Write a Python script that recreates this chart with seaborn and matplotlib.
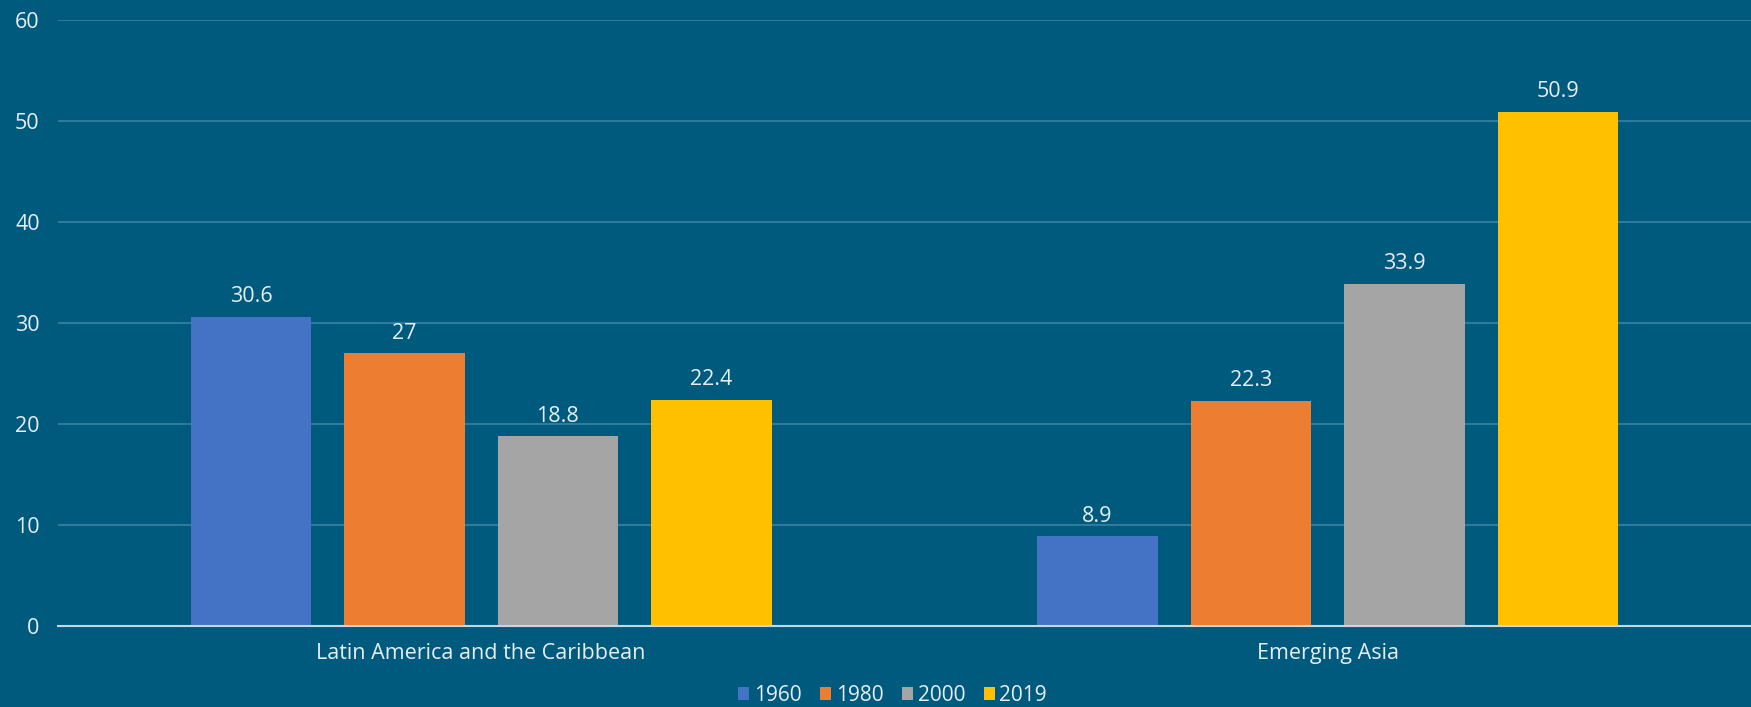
import matplotlib
matplotlib.use("Agg")
import matplotlib.pyplot as plt
import seaborn as sns
import pandas as pd

regions = ["Latin America and the Caribbean", "Emerging Asia"]
years = ["1960", "1980", "2000", "2019"]
values_latam = [30.6, 27, 18.8, 22.4]
values_asia = [8.9, 22.3, 33.9, 50.9]
value_labels_latam = ["30.6", "27", "18.8", "22.4"]
value_labels_asia = ["8.9", "22.3", "33.9", "50.9"]
colors = ["#4472C4", "#ED7D31", "#A5A5A5", "#FFC000"]

bg = "#005A7E"
txt = "#E6EEF3"

df = pd.DataFrame({
    "region": [regions[0]] * 4 + [regions[1]] * 4,
    "year": years + years,
    "value": values_latam + values_asia,
})

sns.set_style("white")
plt.rcParams["font.family"] = ["Open Sans", "DejaVu Sans"]

fig = plt.figure(figsize=(17.51, 7.07), dpi=100, facecolor=bg)
ax = fig.add_axes([0.033, 0.114, 0.967, 0.858])
ax.set_facecolor(bg)

sns.barplot(data=df, x="region", y="value", hue="year", hue_order=years,
            palette=colors, width=0.725, gap=0.214, saturation=1,
            linewidth=0, order=regions, ax=ax, legend=True)

for i, cont in enumerate(ax.containers):
    labs = [value_labels_latam[i], value_labels_asia[i]]
    ax.bar_label(cont, labels=labs, padding=7, color=txt, fontsize=15.5)

ax.set_ylim(0, 60)
ax.set_xlim(-0.5, 1.5)
ax.set_yticks(range(0, 61, 10))
ax.yaxis.grid(True, color="#2E7B9C", linewidth=1.5)
ax.set_axisbelow(True)
for s in ["top", "right", "left"]:
    ax.spines[s].set_visible(False)
ax.spines["bottom"].set_color("#C9D6DF")
ax.spines["bottom"].set_linewidth(1.5)
ax.tick_params(axis="both", length=0, colors=txt, labelsize=15.5)
ax.tick_params(axis="x", pad=12)
ax.tick_params(axis="y", pad=13)
ax.set_xlabel("")
ax.set_ylabel("")

leg = ax.legend(loc="center", bbox_to_anchor=(0.493, -0.114),
                ncol=4, frameon=False, fontsize=15, handlelength=0.55,
                handleheight=0.55, handletextpad=0.2, columnspacing=0.9,
                borderaxespad=0)
for t in leg.get_texts():
    t.set_color(txt)

fig.savefig("out.png", dpi=100, facecolor=bg)
